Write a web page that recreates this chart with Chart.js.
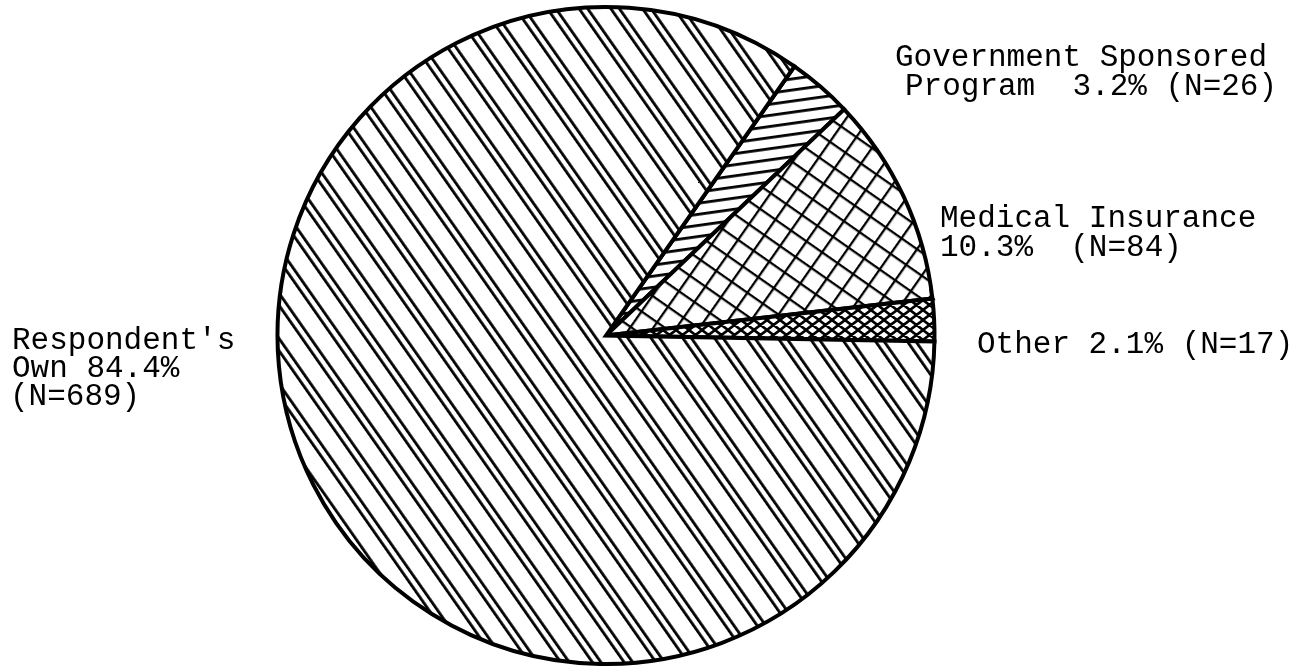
<!DOCTYPE html>
<html>
<head>
<meta charset="utf-8">
<script src="https://cdn.jsdelivr.net/npm/chart.js@4/dist/chart.umd.min.js"></script>
<style>
html,body{margin:0;padding:0;background:#fff;}
canvas{display:block;}
</style>
</head>
<body>
<canvas id="c" width="1296" height="666"></canvas>
<script>
// ---- data ----
const categories = ["Government Sponsored Program", "Medical Insurance", "Other", "Respondent's Own"];
const counts = [26, 84, 17, 689];
const percents = [3.2, 10.3, 2.1, 84.4];
const labelLines = [
  ["Government Sponsored", "Program  3.2% (N=26)"],
  ["Medical Insurance", "10.3%  (N=84)"],
  ["Other 2.1% (N=17)"],
  ["Respondent's", "Own 84.4%", "(N=689)"]
];

// ---- layout (positions of label lines: [x, baseline y]) ----
const labelPos = [
  [[895, 66], [905, 95]],
  [[940, 227], [940, 256]],
  [[977, 353]],
  [[12, 349], [12, 377], [10, 405]]
];

const canvas = document.getElementById('c');
const ctx = canvas.getContext('2d');

function makePattern(w, h, draw, angle) {
  const c = document.createElement('canvas');
  c.width = w; c.height = h;
  const x = c.getContext('2d');
  x.fillStyle = '#fff';
  x.fillRect(0, 0, w, h);
  x.fillStyle = '#000';
  x.strokeStyle = '#000';
  draw(x, w, h);
  const p = ctx.createPattern(c, 'repeat');
  if (angle) p.setTransform(new DOMMatrix().rotateSelf(angle));
  return p;
}

// Government: near-horizontal lines
const patGov = makePattern(12, 11, (x, w) => { x.fillRect(0, 0, w, 2.8); }, -8);
// Medical: square grid rotated
const patMed = makePattern(19, 19, (x, w, h) => { x.fillRect(0, 0, w, 2.3); x.fillRect(0, 0, 2.3, h); }, 35);
// Other: dense diamond crosshatch
const patOther = makePattern(13, 10, (x, w, h) => {
  x.lineWidth = 2.6;
  x.beginPath();
  for (let i = -1; i <= 1; i++) {
    for (let j = -1; j <= 1; j++) {
      x.moveTo(i * w, j * h); x.lineTo(i * w + w, j * h + h);
      x.moveTo(i * w + w, j * h); x.lineTo(i * w, j * h + h);
    }
  }
  x.stroke();
}, 0);
// Respondent's own: paired diagonal lines
const patOwn = makePattern(26, 26, (x, w, h) => { x.fillRect(0, 0, 2.8, h); x.fillRect(7, 0, 2.8, h); }, -35);

const labelPlugin = {
  id: 'sliceLabels',
  afterDraw(chart) {
    const c = chart.ctx;
    c.save();
    c.fillStyle = '#000';
    c.font = '31px "Liberation Mono", monospace';
    c.textBaseline = 'alphabetic';
    c.textAlign = 'left';
    labelLines.forEach((lines, i) => {
      lines.forEach((t, k) => {
        const p = labelPos[i][k];
        c.fillText(t, p[0], p[1]);
      });
    });
    c.restore();
  }
};

new Chart(ctx, {
  type: 'pie',
  data: {
    labels: categories,
    datasets: [{
      data: counts,
      backgroundColor: [patGov, patMed, patOther, patOwn],
      borderColor: '#000',
      borderWidth: 4,
      borderJoinStyle: 'miter'
    }]
  },
  options: {
    responsive: false,
    animation: false,
    events: [],
    rotation: 35,
    layout: { padding: { left: 273, right: 357, top: 5, bottom: 0 } },
    plugins: {
      legend: { display: false },
      tooltip: { enabled: false },
      title: { display: false }
    }
  },
  plugins: [labelPlugin]
});
</script>
</body>
</html>
